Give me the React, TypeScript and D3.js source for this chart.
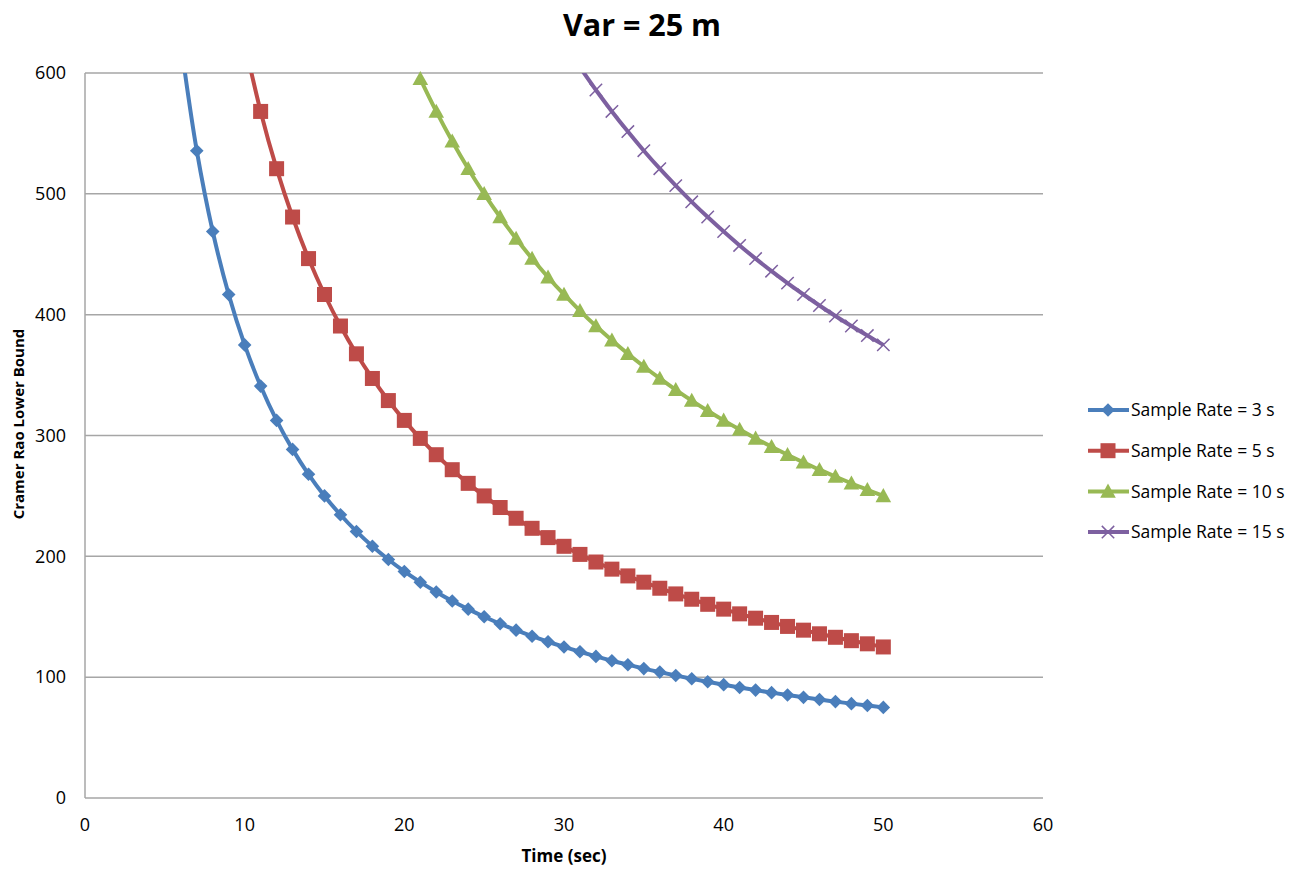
import React from "react";
import * as d3 from "d3";

const title = "Var = 25 m";
const xTitle = "Time (sec)";
const yTitle = "Cramer Rao Lower Bound";
const xTicks = [0, 10, 20, 30, 40, 50, 60];
const yTicks = [0, 100, 200, 300, 400, 500, 600];

const seriesNames = ["Sample Rate = 3 s", "Sample Rate = 5 s", "Sample Rate = 10 s", "Sample Rate = 15 s"];
const seriesColors = ["#4A7EBB", "#BE4B48", "#98B954", "#7D60A0"];
const seriesMarkers = ["diamond", "square", "triangle", "x"];
const seriesStart = [6, 10, 21, 31];

const rate3 = [625, 535.7, 468.8, 416.7, 375, 340.9, 312.5, 288.5, 267.9, 250, 234.4, 220.6, 208.3, 197.4, 187.5, 178.6, 170.5, 163.0, 156.3, 150, 144.2, 138.9, 133.9, 129.3, 125, 121.0, 117.2, 113.6, 110.3, 107.1, 104.2, 101.4, 98.7, 96.2, 93.8, 91.5, 89.3, 87.2, 85.2, 83.3, 81.5, 79.8, 78.1, 76.5, 75];
const rate5 = [625, 568.2, 520.8, 480.8, 446.4, 416.7, 390.6, 367.6, 347.2, 328.9, 312.5, 297.6, 284.1, 271.7, 260.4, 250, 240.4, 231.5, 223.2, 215.5, 208.3, 201.6, 195.3, 189.4, 183.8, 178.6, 173.6, 168.9, 164.5, 160.3, 156.3, 152.4, 148.8, 145.3, 142.0, 138.9, 135.9, 133.0, 130.2, 127.6, 125];
const rate10 = [595.2, 568.2, 543.5, 520.8, 500, 480.8, 463.0, 446.4, 431.0, 416.7, 403.2, 390.6, 378.8, 367.6, 357.1, 347.2, 337.8, 328.9, 320.5, 312.5, 304.9, 297.6, 290.7, 284.1, 277.8, 271.7, 266.0, 260.4, 255.1, 250];
const rate15 = [604.8, 585.9, 568.2, 551.5, 535.7, 520.8, 506.8, 493.4, 480.8, 468.8, 457.3, 446.4, 436.0, 426.1, 416.7, 407.6, 398.9, 390.6, 382.7, 375];
const seriesValues = [rate3, rate5, rate10, rate15];

const W = 1306, H = 872;
const M = { left: 85, right: 1043, top: 73, bottom: 798 };

function Marker({ type, x, y, color }: { type: string; x: number; y: number; color: string }) {
  if (type === "diamond") {
    const s = 6.8;
    return <path d={`M${x},${y - s}L${x + s},${y}L${x},${y + s}L${x - s},${y}Z`} fill={color} />;
  }
  if (type === "square") {
    const s = 7.5;
    return <rect x={x - s} y={y - s} width={2 * s} height={2 * s} fill={color} />;
  }
  if (type === "triangle") {
    const s = 7.8;
    return <path d={`M${x},${y - s}L${x + s},${y + s * 0.8}L${x - s},${y + s * 0.8}Z`} fill={color} />;
  }
  const s = 6.2;
  return <path d={`M${x - s},${y - s}L${x + s},${y + s}M${x - s},${y + s}L${x + s},${y - s}`} stroke={color} strokeWidth={1.5} fill="none" />;
}

export default function App() {
  const x = d3.scaleLinear().domain([0, 60]).range([M.left, M.right]);
  const y = d3.scaleLinear().domain([0, 600]).range([M.bottom, M.top]);
  const line = d3
    .line<[number, number]>()
    .x((d) => x(d[0]))
    .y((d) => y(d[1]))
    .curve(d3.curveCatmullRom.alpha(0.5));
  const font = "'Open Sans', 'Liberation Sans', sans-serif";

  const series = seriesValues.map((vals, si) =>
    vals.map((v, i) => [seriesStart[si] + i, v] as [number, number])
  );

  return (
    <svg width={W} height={H} style={{ position: "absolute", left: 0, top: 0, fontFamily: font }}>
      <rect width={W} height={H} fill="#fff" />
      <defs>
        <clipPath id="plot">
          <rect x={M.left} y={M.top} width={M.right - M.left} height={M.bottom - M.top} />
        </clipPath>
      </defs>
      <text x={642} y={25} dy="0.35em" textAnchor="middle" fontSize={30.5} fontWeight="bold" fill="#000">
        {title}
      </text>
      {yTicks.map((t) => (
        <g key={t}>
          {t > 0 && <line x1={M.left} x2={M.right} y1={y(t)} y2={y(t)} stroke="#A6A6A6" strokeWidth={1.5} />}
          <text x={66} y={y(t)} dy="0.35em" textAnchor="end" fontSize={18} fill="#000">
            {t}
          </text>
        </g>
      ))}
      <line x1={M.left} x2={M.left} y1={M.top} y2={M.bottom} stroke="#A6A6A6" strokeWidth={1.5} />
      <line x1={M.left} x2={M.right} y1={M.bottom} y2={M.bottom} stroke="#A6A6A6" strokeWidth={1.5} />
      {xTicks.map((t) => (
        <text key={t} x={x(t)} y={825} dy="0.35em" textAnchor="middle" fontSize={18} fill="#000">
          {t}
        </text>
      ))}
      <text x={564} y={856} dy="0.35em" textAnchor="middle" fontSize={17} fontWeight="bold" fill="#000">
        {xTitle}
      </text>
      <text
        transform={`translate(19,424) rotate(-90)`}
        dy="0.35em"
        textAnchor="middle"
        fontSize={15}
        fontWeight="bold"
        fill="#000"
      >
        {yTitle}
      </text>
      <g clipPath="url(#plot)">
        {series.map((pts, si) => (
          <path key={si} d={line(pts) || ""} fill="none" stroke={seriesColors[si]} strokeWidth={4} />
        ))}
      </g>
      {series.map((pts, si) => (
        <g key={si}>
          {pts
            .filter((p) => p[1] <= 600)
            .map((p, i) => (
              <Marker key={i} type={seriesMarkers[si]} x={x(p[0])} y={y(p[1])} color={seriesColors[si]} />
            ))}
        </g>
      ))}
      {seriesNames.map((name, si) => {
        const ly = 410 + si * 40.7;
        return (
          <g key={name}>
            <line x1={1088} x2={1129} y1={ly} y2={ly} stroke={seriesColors[si]} strokeWidth={4} />
            <Marker type={seriesMarkers[si]} x={1108} y={ly} color={seriesColors[si]} />
            <text x={1131} y={ly} dy="0.35em" fontSize={17.5} fill="#000">
              {name}
            </text>
          </g>
        );
      })}
    </svg>
  );
}
